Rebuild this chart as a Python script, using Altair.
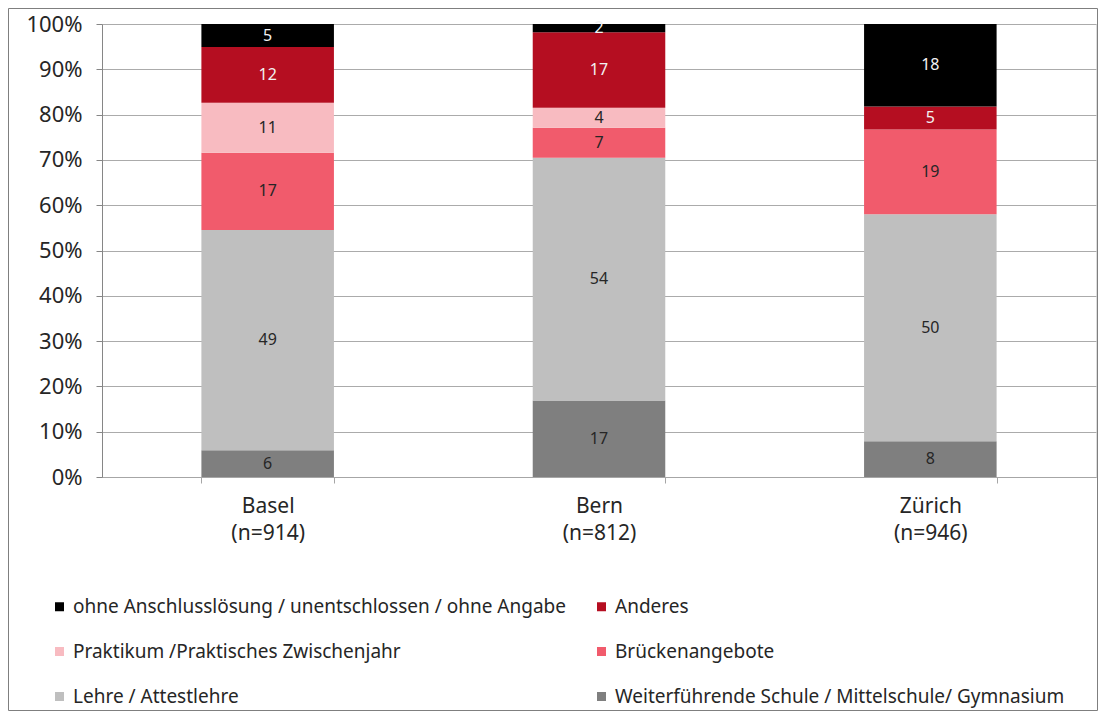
import altair as alt
import pandas as pd

cities = ["Basel (n=914)", "Bern (n=812)", "Zürich (n=946)"]
# bottom -> top stacking order
categories = [
    "Weiterführende Schule / Mittelschule/ Gymnasium",
    "Lehre / Attestlehre",
    "Brückenangebote",
    "Praktikum /Praktisches Zwischenjahr",
    "Anderes",
    "ohne Anschlusslösung / unentschlossen / ohne Angabe",
]
basel = [5.9, 48.6, 17.1, 11.0, 12.3, 5.1]
bern = [16.9, 53.6, 6.6, 4.4, 16.7, 1.8]
zurich = [7.9, 50.1, 18.7, 0.0, 5.1, 18.2]

colors = ["#7F7F7F", "#BFBFBF", "#F15B6C", "#F8BBC1", "#B50E21", "#000000"]

rows = []
for city, vals in zip(cities, [basel, bern, zurich]):
    for i, (cat, v) in enumerate(zip(categories, vals)):
        rows.append({"city": city, "cat": cat, "idx": i, "value": v})
df = pd.DataFrame(rows)

# legend is filled column by column: col 1 = top three, col 2 = the others
legend_idx = [5, 3, 1, 4, 2, 0]
legend_order = [categories[i] for i in legend_idx]
legend_colors = [colors[i] for i in legend_idx]

FONT = "Noto Sans"

base = alt.Chart(df).transform_stack(
    stack="value", as_=["y0", "y1"], groupby=["city"],
    sort=[alt.SortField("idx", order="ascending")]
)

xenc = alt.X("city:N", sort=cities, title=None,
             scale=alt.Scale(paddingInner=0.6, paddingOuter=0.3),
             axis=alt.Axis(labelExpr="split(datum.label, ' ')", labelAngle=0,
                           tickBand="extent", tickSize=6, labelPadding=12,
                           labelLineHeight=27, labelFontSize=21,
                           domainColor="#A6A6A6", tickColor="#A6A6A6",
                           labelColor="#262626", labelFont=FONT, grid=False))

bars = base.mark_bar().encode(
    x=xenc,
    y=alt.Y("y0:Q", title=None, scale=alt.Scale(domain=[0, 100], nice=False),
            axis=alt.Axis(values=list(range(0, 101, 10)),
                          labelExpr="datum.value + '%'",
                          tickSize=6, labelPadding=14, labelFontSize=22,
                          labelColor="#262626", labelFont=FONT,
                          domainColor="#868686", tickColor="#868686",
                          gridColor="#ABABAB", grid=True)),
    y2="y1:Q",
    color=alt.Color("cat:N", scale=alt.Scale(domain=legend_order, range=legend_colors),
                    legend=alt.Legend(title=None, orient="none", legendX=-52, legendY=573,
                                      columns=2, columnPadding=26, rowPadding=25,
                                      padding=0, offset=0,
                                      symbolType="square", symbolSize=81,
                                      symbolStrokeWidth=0, labelFontSize=19,
                                      labelFont=FONT, labelColor="#262626",
                                      labelOffset=4, labelLimit=600)),
)

labels = base.transform_calculate(
    mid="(datum.y0 + datum.y1) / 2",
    lab="format(datum.value, '.0f')",
).transform_filter("datum.value >= 0.5").mark_text(
    fontSize=16, font=FONT, baseline="middle", align="center"
).encode(
    x=alt.X("city:N", sort=cities),
    y=alt.Y("mid:Q"),
    text="lab:N",
    color=alt.condition("datum.idx >= 4", alt.value("#F2F2F2"), alt.value("#262626")),
)

border = alt.Chart(pd.DataFrame({"a": [0]})).mark_rect(
    fill=None, stroke="#7F7F7F", strokeWidth=1
).encode(
    x=alt.value(-93.5), x2=alt.value(995.5), y=alt.value(-15.5), y2=alt.value(686.5)
)

chart = alt.layer(bars, labels, border).properties(
    width=994, height=453,
    autosize=alt.AutoSizeParams(type="none"),
    padding={"left": 94, "top": 16, "right": 2, "bottom": 234},
).configure_view(stroke=None).configure(background="white")

chart.save("out.html", embed_options={"renderer": "svg", "actions": False})
